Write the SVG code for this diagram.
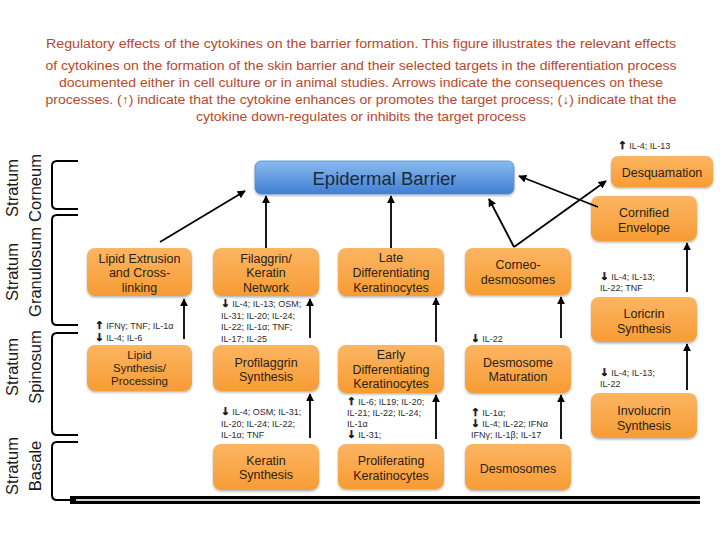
<svg xmlns="http://www.w3.org/2000/svg" width="720" height="540" viewBox="0 0 720 540">
<defs>
<linearGradient id="og" x1="0" y1="0" x2="0" y2="1">
<stop offset="0" stop-color="#FCB562"/>
<stop offset="1" stop-color="#F79C35"/>
</linearGradient>
<linearGradient id="bg" x1="0" y1="0" x2="0" y2="1">
<stop offset="0" stop-color="#8BBBF0"/>
<stop offset="1" stop-color="#3F7ED2"/>
</linearGradient>
<marker id="ah" viewBox="0 0 10 10" refX="9" refY="5" markerWidth="4.5" markerHeight="4.5" orient="auto" markerUnits="strokeWidth">
<path d="M0,0 L10,5 L0,10 z" fill="#000"/>
</marker>
<filter id="sh" x="-10%" y="-10%" width="120%" height="130%">
<feDropShadow dx="0" dy="1.5" stdDeviation="1.2" flood-color="#000" flood-opacity="0.3"/>
</filter>
</defs>
<style>
.title{font-family:"Liberation Sans",Arial,sans-serif;font-size:12.5px;fill:#B9472A;text-anchor:middle}
.box{fill:url(#og);filter:url(#sh)}
.bt{font-family:"Liberation Sans",Arial,sans-serif;font-size:12.5px;fill:#2b2118;text-anchor:middle}
.bts{font-family:"Liberation Sans",Arial,sans-serif;font-size:11.5px;fill:#2b2118;text-anchor:middle}
.ann{font-family:"Liberation Sans",Arial,sans-serif;font-size:9px;fill:#2d2d2d}
.ar{font-family:"DejaVu Sans",sans-serif;font-weight:bold;font-size:10.5px;fill:#111;stroke:#111;stroke-width:0.5}
.str{font-family:"Liberation Sans",Arial,sans-serif;font-size:16.5px;fill:#1a1a1a;text-anchor:middle}
.brk{fill:none;stroke:#000;stroke-width:2}
.con line{stroke:#000;stroke-width:1.8;marker-end:url(#ah)}
</style>
<rect width="720" height="540" fill="#fff"/>

<g id="title">
<text class="title" x="361" y="48" textLength="630" lengthAdjust="spacingAndGlyphs">Regulatory effects of the cytokines on the barrier formation. This figure   illustrates the relevant effects</text>
<text class="title" x="361" y="70" textLength="631" lengthAdjust="spacingAndGlyphs">of cytokines on the formation of the skin barrier and their selected targets in the differentiation process</text>
<text class="title" x="361" y="87" textLength="604" lengthAdjust="spacingAndGlyphs">documented either in cell culture or in animal studies. Arrows indicate the consequences on these</text>
<text class="title" x="361" y="104" textLength="631" lengthAdjust="spacingAndGlyphs">processes. (↑) indicate that the cytokine enhances or promotes the target process; (↓) indicate that the</text>
<text class="title" x="361" y="121" textLength="330" lengthAdjust="spacingAndGlyphs">cytokine down-regulates or inhibits the target process</text>
</g>

<g id="strata">
<text class="str" transform="translate(12,188) rotate(-90)" dy="6">Stratum</text>
<text class="str" transform="translate(35,188) rotate(-90)" dy="6">Corneum</text>
<text class="str" transform="translate(12,272) rotate(-90)" dy="6">Stratum</text>
<text class="str" transform="translate(35,272) rotate(-90)" dy="6">Granulosum</text>
<text class="str" transform="translate(12,367) rotate(-90)" dy="6">Stratum</text>
<text class="str" transform="translate(35,367) rotate(-90)" dy="6">Spinosum</text>
<text class="str" transform="translate(12,466) rotate(-90)" dy="6">Stratum</text>
<text class="str" transform="translate(35,466) rotate(-90)" dy="6">Basale</text>
<path class="brk" d="M78,161 L57,161 Q52,161 52,166 L52,204 Q52,209 57,209 L78,209"/>
<path class="brk" d="M78,215 L57,215 Q52,215 52,220 L52,320 Q52,325 57,325 L78,325"/>
<path class="brk" d="M78,333 L57,333 Q52,333 52,338 L52,430 Q52,435 57,435 L78,435"/>
<path class="brk" d="M78,442 L57,442 Q52,442 52,447 L52,495 Q52,500 57,500 L72,500"/>
<rect x="70" y="496" width="630" height="8" fill="#000"/>
<line x1="76" y1="500" x2="700" y2="500" stroke="#cfcfcf" stroke-width="2"/>
</g>

<g id="epidermal-barrier">
<rect x="255" y="161" width="259" height="33" rx="6" fill="url(#bg)" stroke="#5B8DCF" stroke-width="0.8" filter="url(#sh)"/>
<text x="384.5" y="184.5" font-family="'Liberation Sans',Arial,sans-serif" font-size="18.5" fill="#1b2a3a" text-anchor="middle">Epidermal Barrier</text>
</g>

<g id="lipid-extrusion"><rect class="box" x="87" y="248" width="105" height="48" rx="8"/>
<text class="bt" x="139.5" y="262.5">Lipid Extrusion</text><text class="bt" x="139.5" y="277">and Cross-</text><text class="bt" x="139.5" y="291.5">linking</text></g>
<g id="filaggrin"><rect class="box" x="213" y="248" width="106" height="48" rx="8"/>
<text class="bt" x="266" y="262.5">Filaggrin/</text><text class="bt" x="266" y="277">Keratin</text><text class="bt" x="266" y="291.5">Network</text></g>
<g id="late-diff"><rect class="box" x="338" y="248" width="106" height="48" rx="8"/>
<text class="bt" x="391" y="261.5">Late</text><text class="bt" x="391" y="277">Differentiating</text><text class="bt" x="391" y="291.5">Keratinocytes</text></g>
<g id="corneodesmosomes"><rect class="box" x="465" y="248" width="106" height="47" rx="8"/>
<text class="bt" x="518" y="269">Corneo-</text><text class="bt" x="518" y="283.5">desmosomes</text></g>
<g id="desquamation"><rect class="box" x="611" y="156" width="102" height="31" rx="7"/>
<text class="bt" x="662" y="176.5">Desquamation</text></g>
<g id="cornified"><rect class="box" x="591" y="196" width="106" height="45" rx="8"/>
<text class="bt" x="644" y="216.5">Cornified</text><text class="bt" x="644" y="231.5">Envelope</text></g>
<g id="loricrin"><rect class="box" x="591" y="297" width="106" height="45" rx="8"/>
<text class="bt" x="644" y="317.5">Loricrin</text><text class="bt" x="644" y="332.5">Synthesis</text></g>
<g id="involucrin"><rect class="box" x="591" y="393" width="106" height="45" rx="8"/>
<text class="bt" x="644" y="414.5">Involucrin</text><text class="bt" x="644" y="429.5">Synthesis</text></g>
<g id="lipid-synthesis"><rect class="box" x="87" y="345" width="105" height="46" rx="8"/>
<text class="bts" x="139.5" y="359">Lipid</text><text class="bts" x="139.5" y="372">Synthesis/</text><text class="bts" x="139.5" y="385">Processing</text></g>
<g id="profilaggrin"><rect class="box" x="213" y="345" width="106" height="46" rx="8"/>
<text class="bt" x="266" y="366.5">Profilaggrin</text><text class="bt" x="266" y="380.5">Synthesis</text></g>
<g id="early-diff"><rect class="box" x="338" y="345" width="106" height="48" rx="8"/>
<text class="bt" x="391" y="358.5">Early</text><text class="bt" x="391" y="373.5">Differentiating</text><text class="bt" x="391" y="387.5">Keratinocytes</text></g>
<g id="desmosome-maturation"><rect class="box" x="465" y="345" width="106" height="48" rx="8"/>
<text class="bt" x="518" y="366.5">Desmosome</text><text class="bt" x="518" y="380.5">Maturation</text></g>
<g id="keratin-synthesis"><rect class="box" x="213" y="444" width="106" height="46" rx="8"/>
<text class="bt" x="266" y="464.5">Keratin</text><text class="bt" x="266" y="478.5">Synthesis</text></g>
<g id="proliferating"><rect class="box" x="338" y="444" width="106" height="45" rx="8"/>
<text class="bt" x="391" y="464.5">Proliferating</text><text class="bt" x="391" y="479.5">Keratinocytes</text></g>
<g id="desmosomes"><rect class="box" x="465" y="444" width="106" height="46" rx="8"/>
<text class="bt" x="518" y="472.5">Desmosomes</text></g>

<g id="connectors" class="con">
<line x1="160" y1="242" x2="245" y2="191"/>
<line x1="266" y1="248" x2="266" y2="196"/>
<line x1="391" y1="248" x2="391" y2="196"/>
<line x1="514" y1="247" x2="489" y2="199"/>
<line x1="514" y1="247" x2="606" y2="181"/>
<line x1="598" y1="207" x2="519" y2="176"/>
<line x1="184" y1="339" x2="184" y2="299"/>
<line x1="310" y1="338" x2="310" y2="299"/>
<line x1="310" y1="438" x2="310" y2="394"/>
<line x1="436" y1="342" x2="436" y2="298"/>
<line x1="436" y1="439" x2="436" y2="395"/>
<line x1="561" y1="338" x2="561" y2="297"/>
<line x1="561" y1="439" x2="561" y2="395"/>
<line x1="687" y1="292" x2="687" y2="243"/>
<line x1="687" y1="390" x2="687" y2="344"/>
</g>

<g id="annotations" class="ann">
<text x="618" y="149"><tspan class="ar">↑</tspan> IL-4; IL-13</text>
<text x="95" y="329"><tspan class="ar">↑</tspan> IFNγ; TNF; IL-1α</text>
<text x="95" y="341"><tspan class="ar">↓</tspan> IL-4; IL-6</text>
<text x="221" y="307"><tspan class="ar">↓</tspan> IL-4; IL-13; OSM;</text>
<text x="221" y="318.5">IL-31; IL-20; IL-24;</text>
<text x="221" y="330">IL-22; IL-1α; TNF;</text>
<text x="221" y="341.5">IL-17; IL-25</text>
<text x="221" y="415"><tspan class="ar">↓</tspan> IL-4; OSM; IL-31;</text>
<text x="221" y="426.5">IL-20; IL-24; IL-22;</text>
<text x="221" y="438">IL-1α; TNF</text>
<text x="347" y="405"><tspan class="ar">↑</tspan> IL-6; IL19; IL-20;</text>
<text x="347" y="416">IL-21; IL-22; IL-24;</text>
<text x="347" y="426.5">IL-1α</text>
<text x="347" y="437.5"><tspan class="ar">↓</tspan> IL-31;</text>
<text x="471" y="342"><tspan class="ar">↓</tspan> IL-22</text>
<text x="471" y="416"><tspan class="ar">↑</tspan> IL-1α;</text>
<text x="471" y="426.5"><tspan class="ar">↓</tspan> IL-4; IL-22; IFNα</text>
<text x="471" y="437.5">IFNγ; IL-1β; IL-17</text>
<text x="600" y="280"><tspan class="ar">↓</tspan> IL-4; IL-13;</text>
<text x="600" y="291">IL-22; TNF</text>
<text x="600" y="376"><tspan class="ar">↓</tspan> IL-4; IL-13;</text>
<text x="600" y="387">IL-22</text>
</g>
</svg>
